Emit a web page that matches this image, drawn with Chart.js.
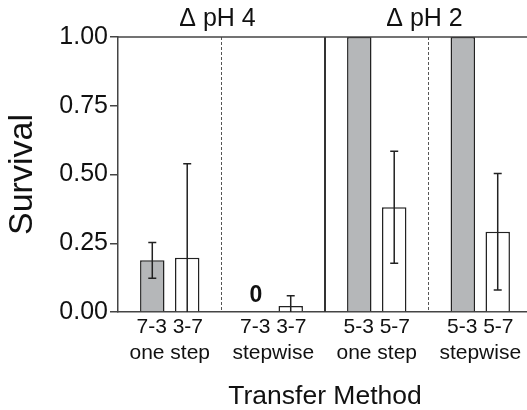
<!DOCTYPE html>
<html lang="en">
<head>
    <meta charset="UTF-8">
    <title>Survival by transfer method</title>
    <script src="https://cdn.jsdelivr.net/npm/chart.js"></script>
    <style>
        html, body {
            margin: 0;
            padding: 0;
            background-color: #fff;
            overflow: hidden;
        }
        #wrap {
            width: 527px;
            height: 410px;
            overflow: hidden;
        }
    </style>
</head>
<body>
    <div id="wrap">
        <canvas id="survivalChart" width="532" height="410"></canvas>
    </div>

    <script>
        /***************************
                    DATA
        ***************************/

        // transfer method under each pair of bars
        const methods = ['one step', 'stepwise', 'one step', 'stepwise'];
        // the two transfers drawn in each group
        const pairLabels = ['7-3 3-7', '7-3 3-7', '5-3 5-7', '5-3 5-7'];
        // block titles above the plot (two groups each)
        const blockTitles = ['\u0394 pH 4', '\u0394 pH 2'];

        // first bar of every pair (grey) and its error
        const firstValues = [0.188, 0, 1.0, 1.0];
        const firstErrors = [0.065, 0, 0, 0];

        // second bar of every pair (white) and its error
        const secondValues = [0.197, 0.022, 0.381, 0.292];
        const secondErrors = [0.342, 0.037, 0.204, 0.212];

        const yTicks = [0, 0.25, 0.5, 0.75, 1.0];

        const inkColor = '#222';
        const axisColor = '#444';
        const font = 'Arial, "Liberation Sans", sans-serif';

        Chart.defaults.color = '#111';
        Chart.defaults.font.family = font;

        /***************************
            EXTRA DRAWING (dividers, error bars, titles)
        ***************************/
        const extras = {
            id: 'extras',
            beforeDatasetsDraw(chart) {
                const { ctx, chartArea: a, scales: { x } } = chart;
                ctx.save();
                for (let i = 0; i < methods.length - 1; i++) {
                    const px = (x.getPixelForValue(i) + x.getPixelForValue(i + 1)) / 2;
                    const solid = i === 1; // between the two pH blocks
                    ctx.beginPath();
                    ctx.setLineDash(solid ? [] : [3, 2]);
                    ctx.lineWidth = solid ? 2 : 1;
                    ctx.strokeStyle = solid ? '#333' : '#555';
                    ctx.moveTo(px, a.top);
                    ctx.lineTo(px, a.bottom);
                    ctx.stroke();
                }
                ctx.restore();
            },
            afterDatasetsDraw(chart) {
                const { ctx, chartArea: a, scales: { x, y } } = chart;
                ctx.save();

                // error bars
                const sets = [[firstValues, firstErrors], [secondValues, secondErrors]];
                ctx.strokeStyle = inkColor;
                ctx.lineWidth = 1.5;
                sets.forEach(([vals, errs], d) => {
                    const meta = chart.getDatasetMeta(d);
                    vals.forEach((v, i) => {
                        const e = errs[i];
                        if (!e) return;
                        const bx = meta.data[i].x;
                        const lo = v - e;
                        const yTop = y.getPixelForValue(v + e);
                        const yLow = y.getPixelForValue(Math.max(lo, 0));
                        ctx.beginPath();
                        ctx.moveTo(bx, yTop);
                        ctx.lineTo(bx, yLow);
                        ctx.moveTo(bx - 4, yTop);
                        ctx.lineTo(bx + 4, yTop);
                        if (lo > 0) {
                            ctx.moveTo(bx - 4, yLow);
                            ctx.lineTo(bx + 4, yLow);
                        }
                        ctx.stroke();
                    });
                });

                // zero values are written above the baseline
                const meta0 = chart.getDatasetMeta(0);
                ctx.fillStyle = '#111';
                ctx.font = 'bold 23px ' + font;
                ctx.textAlign = 'center';
                ctx.textBaseline = 'middle';
                firstValues.forEach((v, i) => {
                    if (v === 0) {
                        ctx.fillText(String(v), meta0.data[i].x, y.getPixelForValue(0) - 16);
                    }
                });

                // top border of the plot
                ctx.strokeStyle = axisColor;
                ctx.lineWidth = 1.5;
                ctx.beginPath();
                ctx.moveTo(a.left, a.top);
                ctx.lineTo(a.right, a.top);
                ctx.stroke();

                // block titles
                ctx.font = '25px ' + font;
                ctx.fillStyle = '#111';
                blockTitles.forEach((t, b) => {
                    const px = (x.getPixelForValue(b * 2) + x.getPixelForValue(b * 2 + 1)) / 2;
                    ctx.fillText(t, px - 4, 19);
                });
                ctx.restore();
            }
        };

        /***************************
                 DRAW CHART
        ***************************/
        const labels = methods.map((m, i) => [pairLabels[i], m]);

        const ctx = document.getElementById('survivalChart').getContext('2d');
        new Chart(ctx, {
            type: 'bar',
            data: {
                labels: labels,
                datasets: [
                    {
                        label: 'first',
                        data: firstValues,
                        backgroundColor: '#b5b7b9',
                        borderColor: inkColor,
                        borderWidth: 1.5
                    },
                    {
                        label: 'second',
                        data: secondValues,
                        backgroundColor: '#ffffff',
                        borderColor: inkColor,
                        borderWidth: 1.5
                    }
                ]
            },
            plugins: [extras],
            options: {
                responsive: false,
                animation: false,
                categoryPercentage: 0.675,
                barPercentage: 0.7,
                layout: { padding: { top: 37, right: 0, left: 0, bottom: 0 } },
                plugins: {
                    legend: { display: false },
                    tooltip: { enabled: false }
                },
                scales: {
                    x: {
                        grid: { display: true, drawOnChartArea: false, drawTicks: false },
                        border: { color: axisColor, width: 1.5 },
                        ticks: {
                            font: { size: 21, lineHeight: 1.25 },
                            padding: 2,
                            maxRotation: 0,
                            autoSkip: false
                        },
                        title: {
                            display: true,
                            text: 'Transfer Method',
                            font: { size: 26.5, lineHeight: 1 },
                            padding: { top: 0, bottom: 0 }
                        },
                        afterFit(scale) { scale.height = 98; }
                    },
                    y: {
                        min: 0,
                        max: 1,
                        afterBuildTicks(scale) {
                            scale.ticks = yTicks.map(v => ({ value: v }));
                        },
                        grid: { drawOnChartArea: false, tickLength: 8, color: axisColor, lineWidth: 1.5 },
                        border: { color: axisColor, width: 1.5 },
                        ticks: {
                            font: { size: 25 },
                            padding: 2,
                            callback: v => v.toFixed(2)
                        },
                        title: {
                            display: true,
                            text: 'Survival',
                            font: { size: 34, lineHeight: 1.2 },
                            padding: { top: 2, bottom: 0 }
                        },
                        afterFit(scale) { scale.width = 118; }
                    }
                }
            }
        });
    </script>
</body>
</html>
